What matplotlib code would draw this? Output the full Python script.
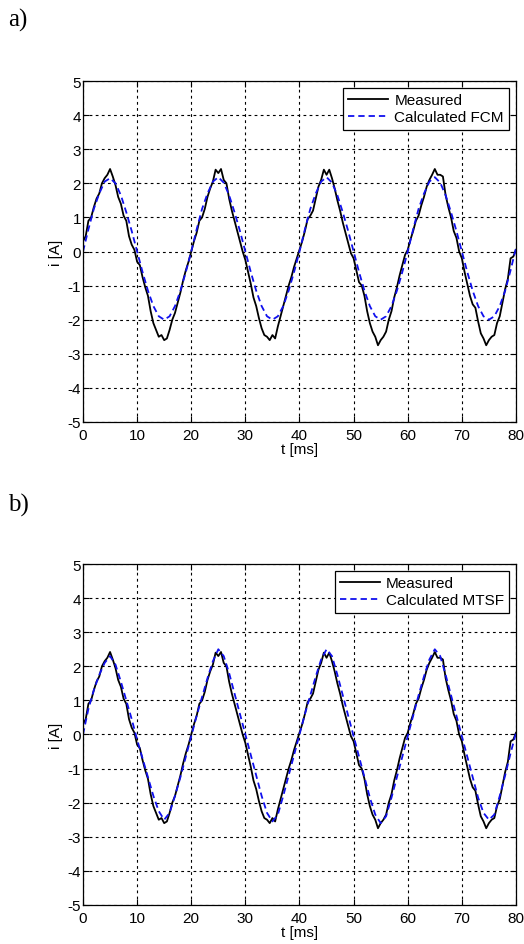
import numpy as np
import matplotlib
matplotlib.use('Agg')
import matplotlib.pyplot as plt

# time axes [ms]
t_meas = np.arange(0, 80.01, 0.5)
t_calc = np.arange(0, 81, 1)

# measured current [A], 0.5 ms steps
i_meas = [
    0.30, 0.45, 0.90, 1.00, 1.30, 1.55, 1.70, 2.00, 2.15, 2.25,
    2.42, 2.20, 1.95, 1.60, 1.40, 1.05, 0.90, 0.45, 0.20, 0.05,
    -0.30, -0.40, -0.75, -1.05, -1.30, -1.75, -2.10, -2.30, -2.50, -2.45,
    -2.60, -2.55, -2.30, -2.00, -1.80, -1.50, -1.20, -0.85, -0.55, -0.30,
    0.00, 0.30, 0.55, 0.90, 1.00, 1.25, 1.60, 1.85, 2.05, 2.40,
    2.30, 2.42, 2.10, 2.00, 1.55, 1.20, 0.90, 0.60, 0.30, 0.00,
    -0.25, -0.60, -0.95, -1.35, -1.60, -1.95, -2.25, -2.45, -2.50, -2.60,
    -2.45, -2.55, -2.20, -1.90, -1.60, -1.30, -1.00, -0.75, -0.45, -0.20,
    0.05, 0.30, 0.60, 0.95, 1.05, 1.20, 1.55, 1.90, 2.10, 2.40,
    2.25, 2.40, 2.15, 1.85, 1.50, 1.20, 0.85, 0.55, 0.25, -0.05,
    -0.20, -0.55, -0.90, -1.00, -1.30, -1.75, -2.10, -2.35, -2.50, -2.75,
    -2.60, -2.50, -2.35, -2.00, -1.75, -1.35, -1.05, -0.70, -0.40, -0.10,
    0.05, 0.35, 0.60, 0.90, 1.05, 1.35, 1.60, 1.90, 2.10, 2.25,
    2.42, 2.25, 2.25, 2.20, 1.65, 1.30, 1.00, 0.60, 0.40, 0.00,
    -0.20, -0.60, -0.95, -1.30, -1.55, -1.65, -2.05, -2.40, -2.55, -2.75,
    -2.60, -2.50, -2.45, -2.10, -1.90, -1.50, -1.10, -0.80, -0.20, -0.15,
    0.05,
]

# calculated with FCM, 1 ms steps
i_fcm = [
    0.00, 0.65, 1.25, 1.70, 2.05, 2.15, 2.00, 1.65, 1.15, 0.60,
    0.00, -0.60, -1.15, -1.60, -1.90, -2.00, -1.90, -1.60, -1.15, -0.60,
    0.00, 0.65, 1.25, 1.70, 2.05, 2.18, 2.02, 1.65, 1.15, 0.60,
    0.00, -0.60, -1.15, -1.60, -1.90, -2.00, -1.90, -1.60, -1.15, -0.60,
    0.00, 0.65, 1.25, 1.70, 2.05, 2.18, 2.02, 1.65, 1.15, 0.60,
    0.00, -0.60, -1.15, -1.60, -1.90, -2.00, -1.90, -1.60, -1.15, -0.60,
    0.00, 0.65, 1.25, 1.70, 2.05, 2.18, 2.02, 1.65, 1.15, 0.60,
    0.00, -0.60, -1.15, -1.60, -1.90, -2.00, -1.90, -1.60, -1.15, -0.55,
    0.10,
]

# calculated with MTSF, 1 ms steps
i_mtsf = [
    0.00, 0.75, 1.30, 1.75, 2.10, 2.30, 2.05, 1.55, 1.00, 0.45,
    -0.15, -0.70, -1.25, -1.80, -2.25, -2.50, -2.30, -1.80, -1.25, -0.65,
    -0.05, 0.55, 1.10, 1.65, 2.15, 2.50, 2.30, 1.80, 1.20, 0.60,
    0.00, -0.60, -1.20, -1.80, -2.30, -2.55, -2.35, -1.80, -1.20, -0.60,
    0.00, 0.60, 1.15, 1.70, 2.20, 2.50, 2.30, 1.75, 1.15, 0.55,
    -0.05, -0.65, -1.25, -1.85, -2.35, -2.60, -2.40, -1.85, -1.25, -0.65,
    -0.05, 0.55, 1.15, 1.70, 2.20, 2.50, 2.30, 1.75, 1.15, 0.55,
    -0.05, -0.65, -1.25, -1.85, -2.30, -2.50, -2.35, -1.80, -1.20, -0.55,
    0.05,
]

xticks = np.arange(0, 81, 10)
yticks = np.arange(-5, 6, 1)

plt.rcParams['font.family'] = ['Liberation Sans', 'DejaVu Sans']
plt.rcParams['font.size'] = 11
plt.rcParams['axes.unicode_minus'] = False

fig = plt.figure(figsize=(5.24, 9.45), dpi=100)
ax1 = fig.add_axes([0.1584, 0.5524, 0.8263, 0.3608])
ax2 = fig.add_axes([0.1584, 0.0413, 0.8263, 0.3608])

for ax, calc, lbl in [(ax1, i_fcm, 'Calculated FCM'), (ax2, i_mtsf, 'Calculated MTSF')]:
    ax.plot(t_meas, i_meas, color='black', lw=1.3, label='Measured')
    ax.plot(t_calc, calc, color='#1010ee', lw=1.3, ls=(0, (3.5, 2.2)), label=lbl)
    ax.set_xlim(0, 80)
    ax.set_ylim(-5, 5)
    ax.set_xticks(xticks)
    ax.set_yticks(yticks)
    ax.grid(True, color='black', ls=(0, (2.5, 3)), lw=0.8)
    ax.tick_params(direction='in', top=True, right=True, length=4, width=0.8)
    ax.tick_params(axis='y', pad=1.5)
    ax.tick_params(axis='x', pad=4)
    for s in ax.spines.values():
        s.set_linewidth(0.9)
    ax.set_ylabel('i [A]', labelpad=3)
    ax.set_xlabel('t [ms]', labelpad=0)
    leg = ax.legend(loc='upper right', fancybox=False, framealpha=1,
                    edgecolor='black', handlelength=2.6, borderaxespad=0.45,
                    labelspacing=0.2, borderpad=0.35, handletextpad=0.4)
    leg.get_frame().set_linewidth(0.9)

fig.text(0.015, 0.978, 'a)', family=['Liberation Serif', 'DejaVu Serif'], fontsize=18, va='center')
fig.text(0.015, 0.465, 'b)', family=['Liberation Serif', 'DejaVu Serif'], fontsize=18, va='center')

fig.savefig('out.png', dpi=100)
